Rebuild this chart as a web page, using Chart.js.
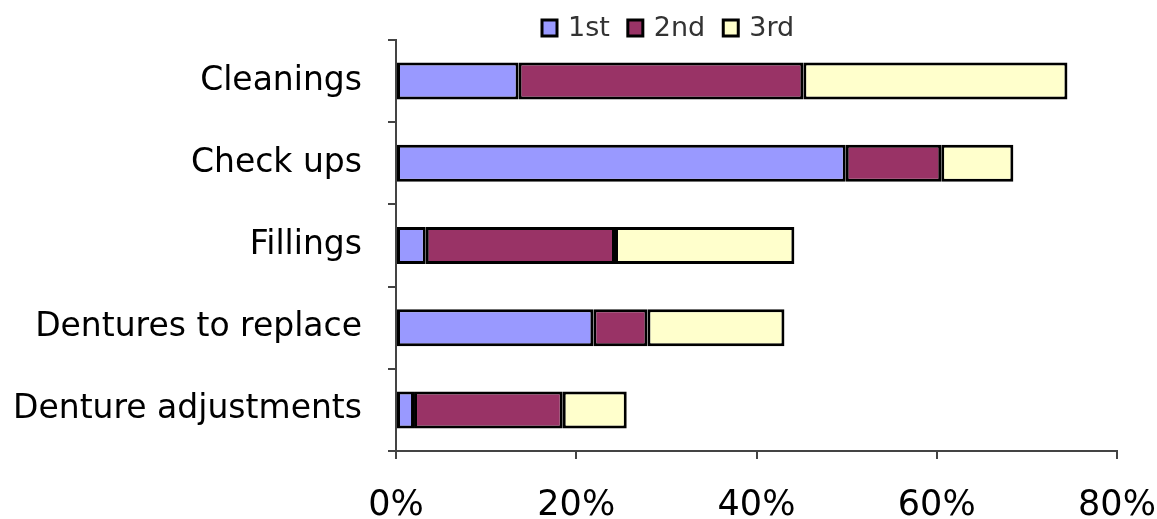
<!DOCTYPE html>
<html>
<head>
<meta charset="utf-8">
<script src="https://cdn.jsdelivr.net/npm/chart.js@4"></script>
<style>
    html, body { margin: 0; padding: 0; background: #fff; }
    #wrap { width: 1157px; height: 519px; position: relative; }
</style>
</head>
<body>
<div id="wrap"><canvas id="servicesChart"></canvas></div>
<script>
// Chart data
const categories = ['Cleanings', 'Check ups', 'Fillings', 'Dentures to replace', 'Denture adjustments'];
const seriesNames = ['1st', '2nd', '3rd'];
const firstChoice = [13.6, 49.9, 3.3, 21.9, 2.0];
const secondChoice = [31.6, 10.6, 21.0, 6.0, 16.5];
const thirdChoice = [29.3, 8.0, 19.9, 15.2, 7.1];
const xTicks = [0, 20, 40, 60, 80];

const colors = ['#9999ff', '#993366', '#ffffcc'];
const FONT = "'DejaVu Sans', 'Liberation Sans', sans-serif";

// Legend drawn by hand so it sits where the original one is
const topLegend = {
    id: 'topLegend',
    afterDraw(chart) {
        const ctx = chart.ctx;
        let x = 542;
        const y = 28;
        ctx.save();
        ctx.font = '27px ' + FONT;
        ctx.textBaseline = 'middle';
        chart.data.datasets.forEach(ds => {
            ctx.fillStyle = ds.backgroundColor;
            ctx.fillRect(x, y - 8, 15, 16);
            ctx.lineWidth = 3;
            ctx.strokeStyle = '#000';
            ctx.strokeRect(x, y - 8, 15, 16);
            x += 26;
            ctx.fillStyle = '#333';
            ctx.fillText(ds.label, x, y + 1);
            x += ctx.measureText(ds.label).width + 18;
        });
        ctx.restore();
    }
};

function makeSet(i, data) {
    return {
        label: seriesNames[i],
        data: data,
        backgroundColor: colors[i],
        borderColor: '#000',
        borderWidth: 3,
        borderSkipped: false,
        categoryPercentage: 1,
        barPercentage: 0.45
    };
}

new Chart(document.getElementById('servicesChart'), {
    type: 'bar',
    data: {
        labels: categories,
        datasets: [
            makeSet(0, firstChoice),
            makeSet(1, secondChoice),
            makeSet(2, thirdChoice)
        ]
    },
    options: {
        indexAxis: 'y',
        responsive: true,
        maintainAspectRatio: false,
        animation: false,
        layout: { padding: { top: 40, right: 0, left: 0, bottom: 0 } },
        plugins: {
            legend: { display: false },
            tooltip: { enabled: false }
        },
        scales: {
            x: {
                stacked: true,
                min: 0,
                max: 80,
                afterBuildTicks: scale => {
                    scale.ticks = xTicks.map(v => ({ value: v }));
                },
                afterFit: scale => {
                    scale.height = 68;
                    scale.paddingLeft = 0;
                    scale.paddingRight = 40;
                },
                border: { display: true, color: '#444', width: 2 },
                grid: { drawOnChartArea: false, tickLength: 8, color: '#444', lineWidth: 2 },
                ticks: {
                    callback: v => v + '%',
                    color: '#000',
                    padding: 26,
                    maxRotation: 0,
                    font: { family: FONT, size: 35 }
                }
            },
            y: {
                stacked: true,
                afterFit: scale => {
                    scale.width = 396;
                    scale.paddingTop = 0;
                    scale.paddingBottom = 0;
                },
                border: { display: true, color: '#444', width: 2 },
                grid: { drawOnChartArea: false, tickLength: 8, color: '#444', lineWidth: 2, offset: true },
                ticks: {
                    color: '#000',
                    padding: 26,
                    font: { family: FONT, size: 33 }
                }
            }
        }
    },
    plugins: [topLegend]
});
</script>
</body>
</html>
